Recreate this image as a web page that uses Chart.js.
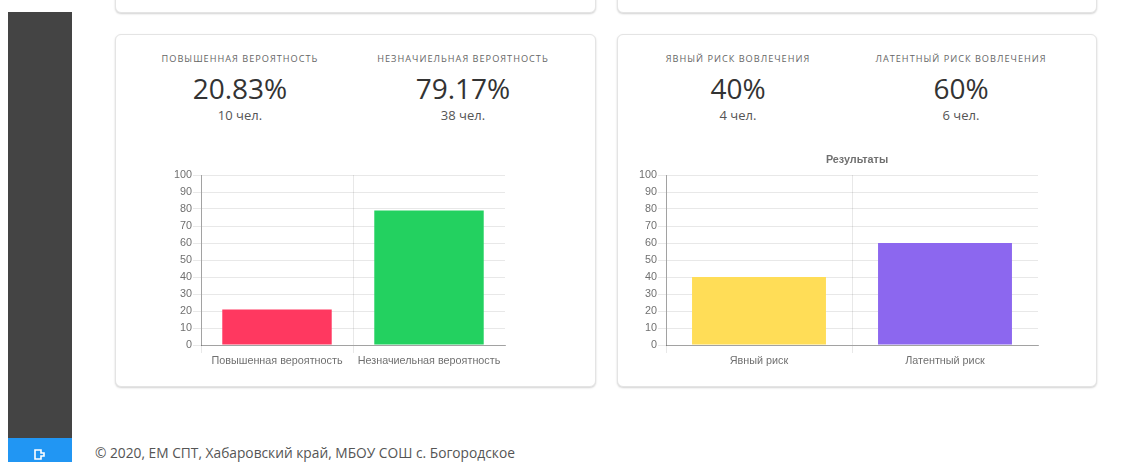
<!DOCTYPE html>
<html lang="ru">

<head>
  <meta charset="UTF-8">
  <title>Результаты</title>
  <script src="https://cdn.jsdelivr.net/npm/chart.js"></script>
  <style>
    html, body { margin: 0; padding: 0; background: #fff; overflow: hidden; }
    body { width: 1139px; height: 462px; position: relative; font-family: "Open Sans", sans-serif; color: #333; }
    .sidebar { position: absolute; left: 8px; top: 12px; width: 64px; height: 450px; background: #444; }
    .logout { position: absolute; left: 8px; top: 438px; width: 64px; height: 24px; background: #2196f3; }
    .logout svg { position: absolute; left: 26px; top: 11px; }
    .card { position: absolute; box-sizing: border-box; background: #fff; border: 1px solid #e4e4e4; border-radius: 6px; box-shadow: 0 1px 2px rgba(0,0,0,.18); }
    .stat { position: absolute; text-align: center; width: 220px; }
    .stat .name { position: absolute; top: 52px; width: 100%; font-size: 9.2px; line-height: 14px; letter-spacing: 1px; text-transform: uppercase; color: #666; }
    .stat .big { position: absolute; top: 69px; width: 100%; font-size: 28px; line-height: 38px; color: #333; }
    .stat .small { position: absolute; top: 105px; width: 100%; font-size: 13px; line-height: 20px; color: #555; }
    canvas { position: absolute; }
    .footer { position: absolute; left: 95px; top: 444px; font-size: 13.75px; line-height: 18px; color: #555; white-space: nowrap; }
  </style>
</head>

<body>

  <div class="sidebar"></div>
  <div class="logout">
    <svg width="11" height="11" viewBox="0 0 11 11"><path d="M1 1h6v3h3v3H7v3H1z" fill="none" stroke="#fff" stroke-width="1.6"/></svg>
  </div>

  <div class="card" style="left:115px;top:-40px;width:481px;height:53px"></div>
  <div class="card" style="left:617px;top:-40px;width:480px;height:53px"></div>
  <div class="card" style="left:115px;top:34px;width:481px;height:353px"></div>
  <div class="card" style="left:617px;top:34px;width:480px;height:353px"></div>

  <div id="stats"></div>

  <canvas id="chartVer" width="360" height="225" style="left:150px;top:150px"></canvas>
  <canvas id="chartRisk" width="428" height="225" style="left:615px;top:150px"></canvas>

  <div class="footer">© 2020, ЕМ СПТ, Хабаровский край, МБОУ СОШ с. Богородское</div>

  <script>
    const yTicks = [0, 10, 20, 30, 40, 50, 60, 70, 80, 90, 100];

    const verLabels = ['Повышенная вероятность', 'Незначиельная вероятность'];
    const verValues = [20.83, 79.17];
    const verColors = ['#ff3860', '#23d160'];

    const riskLabels = ['Явный риск', 'Латентный риск'];
    const riskValues = [40, 60];
    const riskColors = ['#ffdd57', '#8c67ef'];

    const statNames = ['Повышенная вероятность', 'Незначиельная вероятность', 'Явный риск вовлечения', 'Латентный риск вовлечения'];
    const statPercents = ['20.83%', '79.17%', '40%', '60%'];
    const statPeople = ['10 чел.', '38 чел.', '4 чел.', '6 чел.'];
    const statCenters = [240, 463, 738, 961];

    var statsBox = document.getElementById('stats');
    for (var i = 0; i < statNames.length; i++) {
      var div = document.createElement('div');
      div.className = 'stat';
      div.style.left = (statCenters[i] - 110) + 'px';
      div.innerHTML = '<div class="name">' + statNames[i] + '</div>' +
        '<div class="big">' + statPercents[i] + '</div>' +
        '<div class="small">' + statPeople[i] + '</div>';
      statsBox.appendChild(div);
    }

    Chart.defaults.font.family = '"Liberation Sans", Arial, sans-serif';
    Chart.defaults.font.size = 10.8;
    Chart.defaults.color = '#707070';

    function makeChart(id, labels, values, colors, title, axisWidth) {
      return new Chart(document.getElementById(id), {
        type: 'bar',
        data: {
          labels: labels,
          datasets: [{ data: values, backgroundColor: colors, categoryPercentage: 0.8, barPercentage: 0.9 }]
        },
        options: {
          responsive: false,
          animation: false,
          layout: { padding: { top: 25, right: 5, left: 0, bottom: 0 } },
          plugins: {
            legend: { display: false },
            tooltip: { enabled: false },
            title: { display: false, text: title }
          },
          scales: {
            x: {
              grid: {
                // у правого края вертикальной линии нет (там контекст без tick)
                color: function (c) { return c.tick ? 'rgba(0,0,0,0.09)' : 'rgba(0,0,0,0)'; },
                tickLength: 8
              },
              border: { color: 'rgba(0,0,0,0.3)' },
              ticks: { maxRotation: 0, autoSkip: false, padding: 2 },
              afterFit: function (axis) { axis.height = 30; }
            },
            y: {
              min: 0,
              max: 100,
              afterBuildTicks: function (axis) { axis.ticks = yTicks.map(function (v) { return { value: v }; }); },
              grid: { color: 'rgba(0,0,0,0.09)', tickLength: 8 },
              border: { color: 'rgba(0,0,0,0.3)' },
              ticks: { padding: 1 },
              afterFit: function (axis) { axis.width = axisWidth; }
            }
          }
        },
        plugins: [{
          // заголовок над графиком, место под него уже оставлено в padding
          id: 'topTitle',
          afterDraw: function (chart) {
            if (!title) return;
            var ctx = chart.ctx;
            ctx.save();
            ctx.font = 'bold 10.8px "Liberation Sans", Arial, sans-serif';
            ctx.fillStyle = '#707070';
            ctx.textAlign = 'center';
            ctx.textBaseline = 'middle';
            ctx.fillText(title, chart.chartArea.left + chart.chartArea.width / 2 + 5, 10);
            ctx.restore();
          }
        }]
      });
    }

    makeChart('chartVer', verLabels, verValues, verColors, '', 51);
    makeChart('chartRisk', riskLabels, riskValues, riskColors, 'Результаты', 51);
  </script>

</body>

</html>
